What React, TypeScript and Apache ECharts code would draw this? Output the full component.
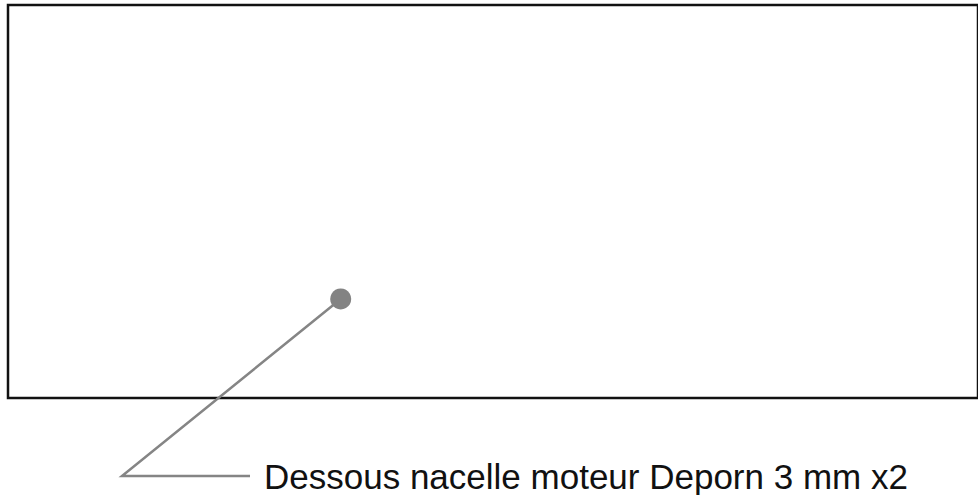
import React, { useEffect, useRef } from "react";
import * as echarts from "echarts";

const labels: string[] = ["Dessous nacelle moteur Deporn 3 mm x2"];
const pointX: number[] = [34.3];
const pointY: number[] = [25.2];

export default function App() {
  const ref = useRef<HTMLDivElement>(null);
  useEffect(() => {
    document.body.style.margin = "0";
    if (!ref.current) return;
    const chart = echarts.init(ref.current, undefined, { renderer: "svg" });
    const data = pointX.map((x, i) => [x, pointY[i]]);
    chart.setOption({
      animation: false,
      grid: {
        left: 8,
        top: 5,
        width: 980,
        height: 393,
        show: true,
        borderColor: "#111111",
        borderWidth: 2.5,
        backgroundColor: "transparent",
      },
      xAxis: { type: "value", min: 0, max: 100, show: false },
      yAxis: { type: "value", min: 0, max: 100, show: false },
      series: [
        {
          type: "scatter",
          data,
          symbol: "circle",
          symbolSize: 21,
          itemStyle: { color: "#838383", opacity: 1 },
          z: 5,
        },
      ],
    });
    const p = chart.convertToPixel({ gridIndex: 0 }, data[0]) as number[];
    const elbowX = 122;
    const lineY = 476;
    const endX = 250;
    chart.setOption({
      graphic: [
        {
          type: "polyline",
          z: 1,
          shape: { points: [[p[0], p[1]], [elbowX, lineY], [endX, lineY]] },
          style: { stroke: "#858585", lineWidth: 2.5, fill: null },
        },
        {
          type: "text",
          x: 264,
          y: lineY,
          style: {
            text: labels[0],
            font: "35px 'Liberation Sans', Arial, sans-serif",
            fill: "#111111",
            verticalAlign: "middle",
            align: "left",
          },
        },
      ],
    });
    return () => chart.dispose();
  }, []);
  return <div ref={ref} style={{ width: 978, height: 495 }} />;
}
